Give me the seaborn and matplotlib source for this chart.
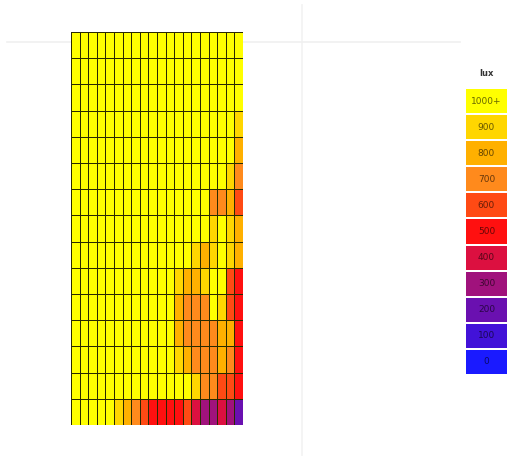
import numpy as np
import pandas as pd
import matplotlib
matplotlib.use("Agg")
import matplotlib.pyplot as plt
from matplotlib.colors import ListedColormap
from matplotlib.lines import Line2D
import seaborn as sns

# Illuminance grid (lux), 15 rows x 20 columns, top row first (1000 = "1000+")
lux_rows = [
    [1000]*20,
    [1000]*20,
    [1000]*20,
    [1000]*19 + [900],
    [1000]*19 + [800],
    [1000]*18 + [900, 700],
    [1000]*16 + [700, 700, 800, 600],
    [1000]*16 + [900, 1000, 900, 800],
    [1000]*14 + [900, 800, 900, 1000, 900, 800],
    [1000]*12 + [900, 800, 800, 900, 1000, 1000, 600, 500],
    [1000]*12 + [800, 700, 700, 700, 1000, 900, 600, 500],
    [1000]*12 + [800, 700, 700, 700, 700, 800, 800, 500],
    [1000]*12 + [900, 800, 700, 700, 700, 800, 700, 500],
    [1000]*14 + [900, 700, 700, 600, 600, 500],
    [1000, 1000, 1000, 1000, 1000, 900, 800, 700, 600, 500,
     500, 500, 500, 600, 400, 300, 300, 400, 300, 200],
]

# Legend bins (0 .. 1000+)
legend_labels = ["0", "100", "200", "300", "400", "500", "600", "700", "800", "900", "1000+"]
legend_colors = ["#1a1aff", "#4212d8", "#6a10b0", "#a0127c", "#dc1040", "#ff1010",
                 "#ff4a14", "#ff8a1c", "#ffb000", "#ffd600", "#ffff00"]
legend_title = "lux"

cmap = ListedColormap(legend_colors)
nbins = len(legend_labels)

fig = plt.figure(figsize=(5.13, 4.59), dpi=100)
fig.patch.set_facecolor("white")

# faint guide lines
fig.add_artist(Line2D([302/513, 302/513], [1-5/459, 1-455/459], color="#f2f2f2", lw=1.2, zorder=0))
fig.add_artist(Line2D([7/513, 460/513], [1-42/459, 1-42/459], color="#f0f0f0", lw=1.2, zorder=0))

grid = pd.DataFrame(np.array(lux_rows) // 100)
ax = fig.add_axes([71/513, 1-425/459, 172/513, 393/459])
sns.heatmap(grid, ax=ax, cmap=cmap, vmin=-0.5, vmax=nbins-0.5, cbar=False,
            linewidths=0.6, linecolor="#2a2a00", xticklabels=False, yticklabels=False)
ax.set_xlabel(""); ax.set_ylabel("")

# legend as a one-column heatmap
leg_vals = pd.DataFrame(np.arange(nbins)[::-1].reshape(-1, 1))
leg_annot = np.array(legend_labels[::-1]).reshape(-1, 1)
lax = fig.add_axes([465/513, 1-375/459, 43/513, 287/459])
sns.heatmap(leg_vals, ax=lax, cmap=cmap, vmin=-0.5, vmax=nbins-0.5, cbar=False,
            annot=leg_annot, fmt="", annot_kws={"fontsize": 6.5, "color": (0, 0, 0, 0.6)},
            linewidths=1.2, linecolor="white", xticklabels=False, yticklabels=False)
lax.set_xlabel(""); lax.set_ylabel("")
fig.text(486/513, 1-73/459, legend_title, ha="center", va="center", fontsize=6,
         fontweight="bold", color="#333333")

fig.savefig("out.png", dpi=100)
